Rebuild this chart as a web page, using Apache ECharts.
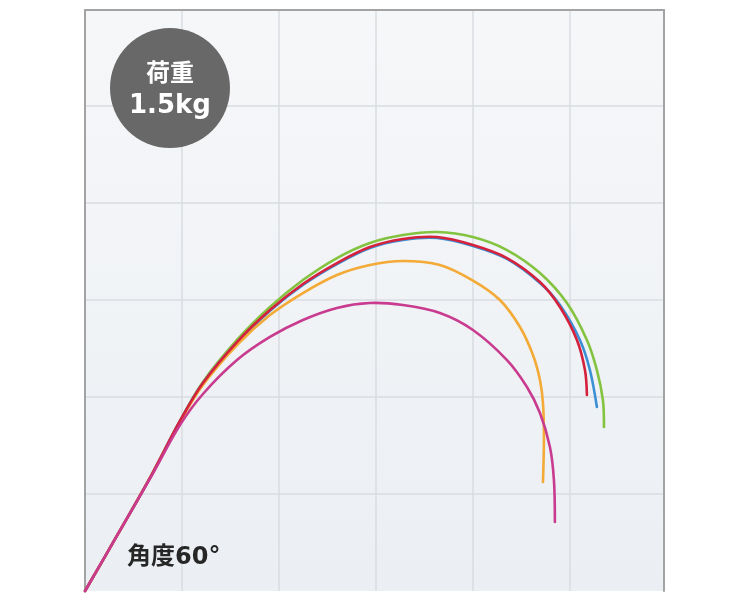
<!doctype html>
<html lang="ja">
<head>
    <meta charset="UTF-8">
    <title>荷重1.5kg 角度60°</title>
    <style>
        html, body { margin: 0; padding: 0; background: #fff; }
        #chart { width: 750px; height: 600px; }
    </style>
</head>
<body>
    <div id="chart"></div>

    <script src="https://cdn.jsdelivr.net/npm/echarts@6/dist/echarts.min.js"></script>
    <script>
        // rod bend curves, one grid cell = 10 units
        var greenX = [0, 3.40, 6.91, 9.79, 12.16, 15.67, 19.07, 22.47, 25.98, 29.38, 32.78, 36.29, 40.00, 43.51, 46.91, 49.69, 51.75, 52.78, 53.40, 53.51];
        var greenY = [0, 5.88, 12.06, 17.53, 21.55, 25.88, 29.28, 32.06, 34.33, 35.88, 36.70, 37.01, 36.49, 35.15, 32.78, 29.69, 25.88, 22.78, 19.69, 16.91];

        var blueX = [0, 3.40, 6.91, 9.79, 12.16, 15.67, 19.07, 22.47, 25.98, 29.38, 32.78, 36.29, 40.00, 43.51, 46.91, 48.97, 51.03, 52.06, 52.78];
        var blueY = [0, 5.88, 12.06, 17.53, 21.44, 25.62, 28.90, 31.55, 33.70, 35.36, 36.19, 36.39, 35.57, 34.23, 31.75, 29.48, 25.88, 22.78, 18.97];

        var orangeX = [0, 3.40, 6.91, 9.79, 12.16, 15.67, 19.07, 22.47, 25.98, 29.38, 32.78, 36.60, 40.00, 42.78, 44.85, 46.19, 46.91, 47.22, 47.32, 47.22];
        var orangeY = [0, 5.88, 12.06, 17.42, 21.24, 25.36, 28.45, 30.72, 32.58, 33.61, 34.02, 33.61, 32.00, 30.00, 27.22, 24.33, 21.75, 19.38, 15.88, 11.24];

        var redX = [0, 3.40, 6.91, 9.79, 12.16, 15.67, 19.07, 22.47, 25.98, 29.38, 32.78, 36.29, 40.00, 43.51, 46.91, 48.97, 50.72, 51.55, 51.75];
        var redY = [0, 5.88, 12.06, 17.53, 21.44, 25.67, 28.97, 31.65, 33.81, 35.46, 36.29, 36.49, 35.67, 34.33, 31.86, 29.28, 25.88, 22.78, 20.21];

        var magentaX = [0, 3.40, 6.91, 9.79, 12.16, 15.67, 19.07, 22.47, 25.98, 29.38, 32.78, 36.60, 40.00, 43.51, 45.57, 46.91, 47.94, 48.35, 48.45];
        var magentaY = [0, 5.88, 11.96, 17.11, 20.31, 23.81, 26.19, 27.94, 29.18, 29.69, 29.48, 28.66, 26.91, 23.81, 21.03, 18.35, 14.85, 11.44, 7.11];

        var loadText = ['荷重', '1.5kg'];
        var angleText = '角度60°';

        function pairs(xs, ys) {
            var out = [];
            for (var i = 0; i < xs.length; i++) out.push([xs[i], ys[i]]);
            return out;
        }

        // custom series so the curve is a free bezier through the points
        // (line series clamps control points and flattens the arcs)
        function curve(name, xs, ys, color) {
            var data = pairs(xs, ys);
            return {
                name: name,
                type: 'custom',
                data: data,
                silent: true,
                renderItem: function (params, api) {
                    if (params.dataIndex !== 0) return null;
                    var pts = data.map(function (d) { return api.coord(d); });
                    return {
                        type: 'polyline',
                        shape: { points: pts, smooth: 0.35 },
                        style: { stroke: color, lineWidth: 2.6, fill: null, lineCap: 'round' }
                    };
                }
            };
        }

        var chart = echarts.init(document.getElementById('chart'));

        var gridColor = '#d9dde1';
        var frameLine = { show: true, onZero: false, lineStyle: { color: '#a3a3a3', width: 2 } };

        var option = {
            animation: false,
            grid: {
                left: 85, top: 10, width: 579, height: 581,
                show: true,
                borderWidth: 0,
                backgroundColor: new echarts.graphic.LinearGradient(0, 0, 0, 1, [
                    { offset: 0, color: '#f6f7f9' },
                    { offset: 1, color: '#ebeff3' }
                ])
            },
            xAxis: {
                type: 'value',
                position: 'top',
                min: 0, max: 59.7, interval: 10,
                axisLine: frameLine,
                axisTick: { show: false },
                axisLabel: { show: false },
                splitLine: { show: true, lineStyle: { color: gridColor, width: 1.5 } }
            },
            yAxis: [{
                type: 'value',
                min: 0, max: 59.9, interval: 10,
                axisLine: frameLine,
                axisTick: { show: false },
                axisLabel: { show: false },
                // no line along the bottom edge
                splitLine: {
                    show: true,
                    lineStyle: {
                        color: ['rgba(0,0,0,0)', gridColor, gridColor, gridColor, gridColor, gridColor, gridColor],
                        width: 1.5
                    }
                }
            }, {
                type: 'value',
                position: 'right',
                min: 0, max: 59.9, interval: 10,
                axisLine: frameLine,
                axisTick: { show: false },
                axisLabel: { show: false },
                splitLine: { show: false }
            }],
            series: [
                curve('green', greenX, greenY, '#84c340'),
                curve('blue', blueX, blueY, '#3b8fd4'),
                curve('orange', orangeX, orangeY, '#f3aa36'),
                curve('red', redX, redY, '#d5213c'),
                curve('magenta', magentaX, magentaY, '#c83b8f')
            ],
            graphic: [
                {
                    type: 'circle',
                    shape: { cx: 170, cy: 88, r: 60 },
                    style: { fill: '#686868' },
                    z: 10
                },
                {
                    type: 'text',
                    x: 170, y: 72,
                    style: {
                        text: loadText[0],
                        fill: '#fff',
                        font: 'bold 24px "Noto Sans CJK JP", sans-serif',
                        align: 'center',
                        verticalAlign: 'middle'
                    },
                    z: 11
                },
                {
                    type: 'text',
                    x: 170, y: 106,
                    style: {
                        text: loadText[1],
                        fill: '#fff',
                        font: 'bold 26px "DejaVu Sans", sans-serif',
                        align: 'center',
                        verticalAlign: 'middle'
                    },
                    z: 11
                },
                {
                    type: 'text',
                    x: 127, y: 558,
                    style: {
                        text: angleText,
                        fill: '#262626',
                        font: 'bold 24px "DejaVu Sans", "Noto Sans CJK JP", sans-serif',
                        align: 'left',
                        verticalAlign: 'middle'
                    },
                    z: 11
                }
            ]
        };

        chart.setOption(option);
    </script>
</body>
</html>
